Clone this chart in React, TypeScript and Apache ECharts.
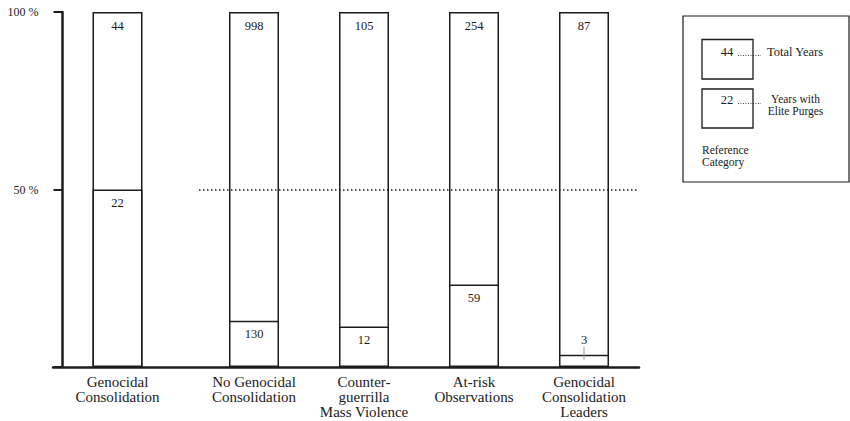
import React, { useEffect, useRef } from "react";
import * as echarts from "echarts";

// ---- data ----
const categories = [
  "Genocidal\nConsolidation",
  "No Genocidal\nConsolidation",
  "Counter-\nguerrilla\nMass Violence",
  "At-risk\nObservations",
  "Genocidal\nConsolidation\nLeaders",
];
const totalYears = [44, 998, 105, 254, 87];
const purgeYears = [22, 130, 12, 59, 3];
const referenceLevel = 50;
const legendTotalLabel = "Total Years";
const legendPurgeLines = ["Years with", "Elite Purges"];
const legendReferenceLines = ["Reference", "Category"];

const FONT = "Liberation Serif, Times New Roman, serif";
const INK = "#1c1c1c";

function buildSeries(axis: number, from: number, to: number) {
  const idx: number[] = [];
  for (let i = from; i < to; i++) idx.push(i);
  const lower = idx.map((i) => {
    const pct = (purgeYears[i] / totalYears[i]) * 100;
    const small = pct < 8;
    return {
      value: pct,
      label: small
        ? {
            position: "top",
            distance: -5,
            formatter: `{n|${purgeYears[i]}}\n{t|}`,
          }
        : { formatter: String(purgeYears[i]) },
    };
  });
  const whole = idx.map((i) => ({
    value: (totalYears[i] / totalYears[i]) * 100,
    label: { formatter: String(totalYears[i]) },
  }));
  const common = {
    type: "bar",
    xAxisIndex: axis,
    yAxisIndex: axis,
    barWidth: 50,
    barGap: "-100%",
    itemStyle: { color: "#fff", borderColor: INK, borderWidth: 1.5 },
    label: {
      show: true,
      position: "insideTop",
      distance: 7,
      fontSize: 12.5,
      fontFamily: FONT,
      color: INK,
      rich: {
        n: { fontSize: 12.5, lineHeight: 13, fontFamily: FONT, color: INK },
        t: { width: 1, height: 13, backgroundColor: "#9a9a9a" },
      },
    },
    emphasis: { disabled: true },
  };
  const s: any[] = [
    { ...common, name: "total" + axis, data: whole },
    { ...common, name: "purge" + axis, data: lower },
  ];
  if (axis === 1) {
    s[1].markLine = {
      silent: true,
      symbol: "none",
      label: { show: false },
      lineStyle: { type: [1.5, 2.5], color: INK, width: 1.5 },
      data: [{ yAxis: referenceLevel }],
    };
  }
  return s;
}

const catAxis = (gridIndex: number, data: string[]) => ({
  type: "category",
  gridIndex,
  data,
  axisLine: { show: false },
  axisTick: { show: false },
  splitLine: { show: false },
  axisLabel: {
    interval: 0,
    margin: 7,
    fontSize: 15,
    lineHeight: 15,
    fontFamily: FONT,
    color: INK,
  },
});

export default function App() {
  const ref = useRef<HTMLDivElement>(null);
  useEffect(() => {
    if (!ref.current) return;
    const chart = echarts.init(ref.current, undefined, { renderer: "svg" });
    const txt = (size: number) => `${size}px ${FONT}`;
    const legendText = (text: string, x: number, y: number, align: string, size = 12) => ({
      type: "text",
      x,
      y,
      z: 12,
      style: { text, font: txt(size), fill: INK, align, verticalAlign: "middle" },
    });
    const option: any = {
      animation: false,
      backgroundColor: "#fff",
      grid: [
        { left: 62.5, top: 12, width: 110, height: 355 },
        { left: 199, top: 12, width: 440, height: 355 },
        { left: 53, top: 12, width: 586, height: 355 },
      ],
      xAxis: [
        catAxis(0, categories.slice(0, 1)),
        catAxis(1, categories.slice(1)),
        {
          type: "value",
          gridIndex: 2,
          min: 0,
          max: 1,
          axisLine: { show: true, onZero: false, lineStyle: { color: INK, width: 2.5 } },
          axisTick: { show: false },
          axisLabel: { show: false },
          splitLine: { show: false },
        },
      ],
      yAxis: [
        {
          type: "value",
          gridIndex: 0,
          min: 0,
          max: 100,
          interval: 50,
          axisLine: { show: true, lineStyle: { color: INK, width: 2.5 } },
          axisTick: { show: true, length: 9, lineStyle: { color: INK, width: 2 } },
          splitLine: { show: false },
          axisLabel: {
            margin: 24,
            fontSize: 12,
            fontFamily: FONT,
            color: INK,
            formatter: (v: number) => (v === 0 ? "" : `${v} %`),
          },
        },
        { type: "value", gridIndex: 1, min: 0, max: 100, show: false },
        { type: "value", gridIndex: 2, min: 0, max: 1, show: false },
      ],
      series: [...buildSeries(0, 0, 1), ...buildSeries(1, 1, categories.length)],
      graphic: [
        {
          type: "rect",
          shape: { x: 683, y: 16, width: 166, height: 166 },
          style: { fill: "#fff", stroke: INK, lineWidth: 1.2 },
          z: 10,
        },
        {
          type: "rect",
          shape: { x: 702, y: 39.5, width: 51, height: 39.5 },
          style: { fill: "#fff", stroke: INK, lineWidth: 1.3 },
          z: 11,
        },
        {
          type: "rect",
          shape: { x: 702, y: 89, width: 51, height: 39 },
          style: { fill: "#fff", stroke: INK, lineWidth: 1.3 },
          z: 11,
        },
        legendText(String(totalYears[0]), 727, 52, "center", 12.5),
        legendText(String(purgeYears[0]), 727, 100, "center", 12.5),
        {
          type: "line",
          z: 12,
          shape: { x1: 738, y1: 55.5, x2: 761, y2: 55.5 },
          style: { stroke: INK, lineWidth: 0.8, lineDash: [1, 1.5] },
        },
        {
          type: "line",
          z: 12,
          shape: { x1: 738, y1: 103.5, x2: 761, y2: 103.5 },
          style: { stroke: INK, lineWidth: 0.8, lineDash: [1, 1.5] },
        },
        legendText(legendTotalLabel, 767, 52, "left", 12.5),
        legendText(legendPurgeLines[0], 795.5, 99, "center", 11.5),
        legendText(legendPurgeLines[1], 795.5, 111, "center", 11.5),
        legendText(legendReferenceLines[0], 702, 150, "left", 11.5),
        legendText(legendReferenceLines[1], 702, 162, "left", 11.5),
      ],
    };
    chart.setOption(option);
    return () => chart.dispose();
  }, []);
  return (
    <div
      ref={ref}
      style={{ position: "fixed", left: 0, top: 0, width: 850, height: 421, background: "#fff" }}
    />
  );
}
